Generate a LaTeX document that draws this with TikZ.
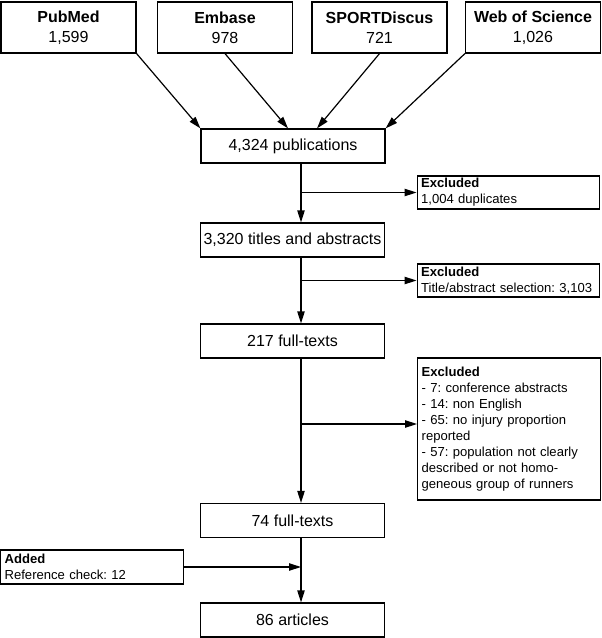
\documentclass[tikz,border=0pt]{standalone}
\usepackage{fontspec}
\setmainfont{Liberation Sans}
\usetikzlibrary{arrows.meta}
\frenchspacing

\tikzset{every picture/.style={line width=0.75pt}}

\begin{document}
\begin{tikzpicture}[
                x=0.75pt,
                y=0.75pt,
                yscale=-1,
                xscale=1,
                every node/.style={text=black},
                line width=0.9pt,
                srcbox/.style={draw, minimum width=101.25pt, minimum height=38.25pt, inner sep=0pt, align=center, font=\fontsize{12}{15}\selectfont},
                mainbox/.style={draw, minimum width=138pt, minimum height=25.5pt, inner sep=0pt, font=\fontsize{12}{14}\selectfont},
                sidebox/.style={draw, text width=131pt, inner xsep=3pt, inner ysep=0.5pt, minimum height=24.75pt, align=left, font=\fontsize{9.8}{12}\selectfont},
                flow/.style={-{Triangle[length=9pt,width=5.5pt]}}
            ]
                \useasboundingbox (0,0) rectangle (602,638);

                % databases
                \node [srcbox] (pubmed) at (68.5,27.5) {\textbf{PubMed}\\1,599};
                \node [srcbox] (embase) at (225,27.5) {\textbf{Embase}\\978};
                \node [srcbox] (sport) at (379.5,27.5) {\textbf{SPORTDiscus}\\721};
                \node [srcbox] (wos) at (533,27.5) {\textbf{Web of Science}\\1,026};

                % main flow
                \node [mainbox] (pubs) at (293,146) {4,324 publications};
                \node [mainbox] (titles) at (292.5,240) {3,320 titles and abstracts};
                \node [mainbox] (full) at (292.5,341) {217 full-texts};
                \node [mainbox] (ft74) at (292.5,520.5) {74 full-texts};
                \node [mainbox] (arts) at (292.5,620) {86 articles};

                % side boxes
                \node [sidebox] (excl1) at (508.5,192.5) {\textbf{Excluded}\\1,004 duplicates};
                \node [sidebox] (excl2) at (508.5,280.5) {\textbf{Excluded}\\Title/abstract selection: 3,103};
                \node [sidebox, minimum height=106.5pt] (excl3) at (509,429) {\textbf{Excluded}\\- 7: conference abstracts\\- 14: non English\\- 65: no injury proportion\\reported\\- 57: population not clearly\\described or not homo-\\geneous group of runners};
                \node [sidebox, minimum height=25.5pt] (added) at (92,567) {\textbf{Added}\\Reference check: 12};

                \coordinate (trunk) at (301,0);
                \coordinate (b1) at (301,192.5);
                \coordinate (b2) at (301,280.5);
                \coordinate (b3) at (301,424);
                \coordinate (b4) at (301,567);

                % arrows
                \draw [flow] (pubmed.south east) -- (pubs.north west);
                \draw [flow] (embase.south) -- ([xshift=-3.75pt]pubs.north);
                \draw [flow] (sport.south) -- ([xshift=18pt]pubs.north);
                \draw [flow] (wos.south west) -- (pubs.north east);

                \draw [flow] (pubs.south -| trunk) -- (titles.north -| trunk);
                \draw [flow] (titles.south -| trunk) -- (full.north -| trunk);
                \draw [flow] (full.south -| trunk) -- (ft74.north -| trunk);
                \draw [flow] (ft74.south -| trunk) -- (arts.north -| trunk);

                \draw [flow] (b1) -- (excl1.west);
                \draw [flow] (b2) -- (excl2.west);
                \draw [flow] (b3) -- (b3 -| excl3.west);
                \draw [flow] (added.east) -- (b4);
            \end{tikzpicture}
\end{document}
